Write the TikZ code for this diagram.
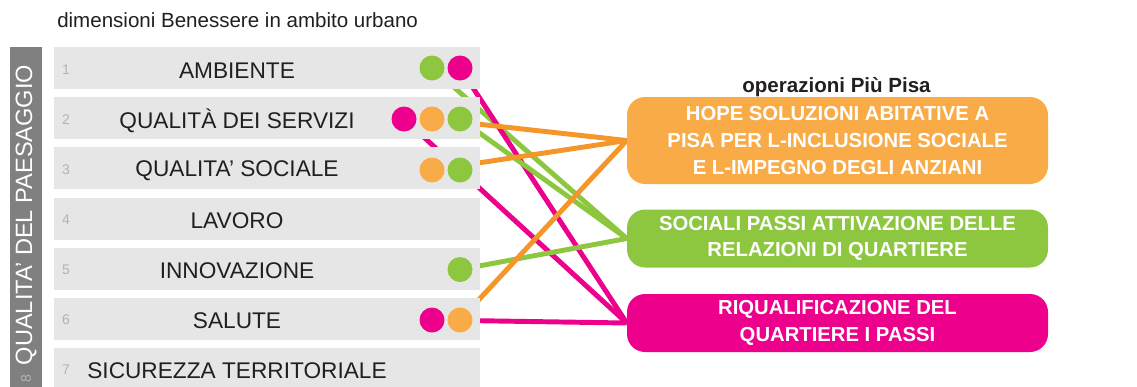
\documentclass[tikz,border=0pt]{standalone}
\usepackage{fontspec}
\setmainfont{Liberation Sans}
\usepackage{tikz}
\usetikzlibrary{backgrounds}

\definecolor{pporange}{HTML}{F9AB48}
\definecolor{linkorange}{HTML}{F5962A}
\definecolor{ppgreen}{HTML}{8DC63F}
\definecolor{ppmagenta}{HTML}{EC008C}
\definecolor{rowgray}{HTML}{E6E6E6}
\definecolor{sidegray}{HTML}{808080}
\definecolor{numgray}{HTML}{B3B3B3}
\definecolor{labelgray}{HTML}{231F20}

\begin{document}
\begin{tikzpicture}[x=0.75pt, y=-0.75pt,
    rowbar/.style={fill=rowgray, inner sep=0pt, minimum width=319.5pt, minimum height=31.5pt},
    rowlabel/.style={text=labelgray, font=\fontsize{17pt}{20pt}\selectfont},
    rownum/.style={text=numgray, font=\fontsize{10.5pt}{12pt}\selectfont},
    spot/.style={circle, fill=#1, inner sep=0pt, minimum size=18.75pt},
    opbox/.style={fill=#1, rounded corners=13.5pt, minimum width=315.75pt, text=white, align=center, font=\fontsize{15.2pt}{19.9pt}\selectfont\bfseries},
    conn/.style={draw=#1, line width=3.7pt}]

        \useasboundingbox (0, 0) rectangle (1137, 386);

        % Declare the titles
        \node[anchor=west, inner sep=0pt, text=labelgray, font=\fontsize{15.4pt}{18pt}\selectfont] at (57, 20) (dim) {dimensioni Benessere in ambito urbano};
        \node[text=labelgray, font=\fontsize{15.4pt}{18pt}\selectfont\bfseries] at (836.5, 87) (ops) {operazioni Più Pisa};

        % Declare the side bar
        \fill[sidegray] (10, 47) rectangle (42, 392);
        \node[rotate=90, text=white, font=\fontsize{17.7pt}{20pt}\selectfont] at (26, 215) (side) {QUALITA' DEL PAESAGGIO};
        \node[rotate=90, rownum] at (26, 379) (N8) {8};

        % Declare the rows
        \node[rowbar] at (267, 68) (R1) {};
        \node[rowbar] at (267, 118.2) (R2) {};
        \node[rowbar] at (267, 168.4) (R3) {};
        \node[rowbar] at (267, 218.6) (R4) {};
        \node[rowbar] at (267, 268.8) (R5) {};
        \node[rowbar] at (267, 319) (R6) {};
        \node[rowbar] at (267, 369.2) (R7) {};

        \node[rownum] at (66, 70) (N1) {1};
        \node[rownum] at (66, 120) (N2) {2};
        \node[rownum] at (66, 170) (N3) {3};
        \node[rownum] at (66, 220) (N4) {4};
        \node[rownum] at (66, 270) (N5) {5};
        \node[rownum] at (66, 320) (N6) {6};
        \node[rownum] at (66, 370) (N7) {7};

        \node[rowlabel] at (237, 71) (L1) {AMBIENTE};
        \node[rowlabel] at (237, 120.5) (L2) {QUALITÀ DEI SERVIZI};
        \node[rowlabel] at (237, 170.5) (L3) {QUALITA' SOCIALE};
        \node[rowlabel] at (237, 220.5) (L4) {LAVORO};
        \node[rowlabel] at (237, 270.5) (L5) {INNOVAZIONE};
        \node[rowlabel] at (237, 320.5) (L6) {SALUTE};
        \node[rowlabel] at (237, 370.5) (L7) {SICUREZZA TERRITORIALE};

        % Declare the dots
        \node[spot=ppgreen] at (432, 68) (d1g) {};
        \node[spot=ppmagenta] at (460, 68) (d1m) {};
        \node[spot=ppmagenta] at (404, 119) (d2m) {};
        \node[spot=pporange] at (432, 119) (d2o) {};
        \node[spot=ppgreen] at (460, 119) (d2g) {};
        \node[spot=pporange] at (432, 170) (d3o) {};
        \node[spot=ppgreen] at (460, 170) (d3g) {};
        \node[spot=ppgreen] at (460, 269.5) (d5g) {};
        \node[spot=ppmagenta] at (432, 320) (d6m) {};
        \node[spot=pporange] at (460, 320) (d6o) {};

        % Declare the operations
        \node[opbox=pporange, minimum height=65.25pt] at (837.5, 140.5) (Hope) {HOPE SOLUZIONI ABITATIVE A\\PISA PER L-INCLUSIONE SOCIALE\\E L-IMPEGNO DEGLI ANZIANI};
        \node[opbox=ppgreen, minimum height=43.5pt] at (837.5, 238.5) (Sociali) {SOCIALI PASSI ATTIVAZIONE DELLE\\RELAZIONI DI QUARTIERE};
        \node[opbox=ppmagenta, minimum height=43.5pt] at (837.5, 323) (Riqual) {RIQUALIFICAZIONE DEL\\QUARTIERE I PASSI};

        % Declare edges
        \begin{scope}[on background layer]
        \draw[conn=ppgreen] (d1g) -- (Sociali.west);
        \draw[conn=ppmagenta] (d1m) -- (Riqual.west);
        \draw[conn=ppmagenta] (d2m) -- (Riqual.west);
        \draw[conn=linkorange] (d2o) -- (Hope.west);
        \draw[conn=ppgreen] (d2g) -- (Sociali.west);
        \draw[conn=linkorange] (d3o) -- (Hope.west);
        \draw[conn=ppgreen] (d5g) -- (Sociali.west);
        \draw[conn=linkorange] (d6o) -- (Hope.west);
        \draw[conn=ppmagenta] (d6m) -- (Riqual.west);
        \end{scope}

    \end{tikzpicture}
\end{document}
